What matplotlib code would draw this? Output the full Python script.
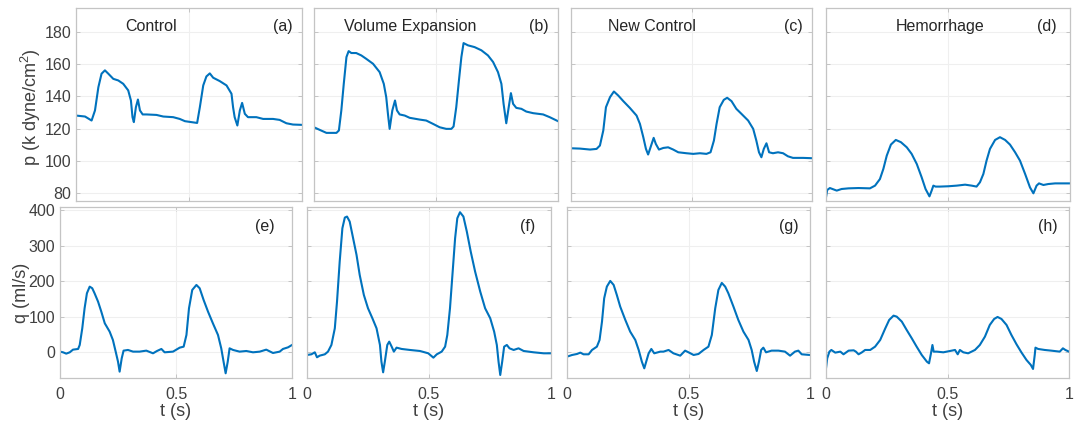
import matplotlib
matplotlib.use("Agg")
import matplotlib.pyplot as plt

plt.rcParams['font.family'] = ['Liberation Sans', 'DejaVu Sans']
plt.rcParams['mathtext.fontset'] = 'custom'
plt.rcParams['mathtext.rm'] = 'Liberation Sans'
plt.rcParams['mathtext.default'] = 'regular'

# ---------------- data ----------------
titles = ["Control", "Volume Expansion", "New Control", "Hemorrhage"]
top_tags = ["(a)", "(b)", "(c)", "(d)"]
bot_tags = ["(e)", "(f)", "(g)", "(h)"]
x_ticks = [0, 0.5, 1]
x_ticklabels = ["0", "0.5", "1"]
p_ticks = [80, 100, 120, 140, 160, 180]
q_ticks = [0, 100, 200, 300, 400]

# pressure (a) Control
t_pa = [0, 0.04, 0.069, 0.084, 0.099, 0.113, 0.128, 0.143, 0.165, 0.187, 0.209, 0.231, 0.243, 0.25, 0.256,
        0.265, 0.274, 0.283, 0.295, 0.312, 0.356, 0.386, 0.43, 0.459, 0.482, 0.511, 0.536, 0.548, 0.563,
        0.577, 0.592, 0.607, 0.636, 0.666, 0.688, 0.695, 0.702, 0.714, 0.725, 0.735, 0.747, 0.761, 0.798,
        0.828, 0.872, 0.901, 0.931, 0.96, 1.0]
p_a = [128.1, 127.5, 125.0, 131.3, 145.8, 154.2, 156.3, 154.2, 151.0, 150.0, 147.9, 143.8, 137.5, 127.1, 124.0,
       133.3, 138.1, 131.3, 128.8, 128.8, 128.5, 127.5, 127.1, 126.0, 124.6, 124.0, 123.5, 133.3, 146.9,
       152.5, 154.4, 151.7, 149.6, 146.9, 141.7, 133.3, 127.1, 121.9, 131.3, 136.0, 129.2, 127.1, 127.1,
       126.0, 126.0, 125.4, 123.3, 122.5, 122.3]

# pressure (b) Volume Expansion
t_pb = [0, 0.023, 0.051, 0.092, 0.102, 0.112, 0.122, 0.133, 0.142, 0.153, 0.173, 0.194, 0.214, 0.242, 0.269,
        0.286, 0.296, 0.303, 0.31, 0.321, 0.332, 0.34, 0.351, 0.372, 0.392, 0.433, 0.46, 0.488, 0.515, 0.542,
        0.563, 0.572, 0.583, 0.594, 0.604, 0.613, 0.631, 0.658, 0.686, 0.713, 0.734, 0.754, 0.768, 0.777,
        0.788, 0.798, 0.807, 0.816, 0.829, 0.85, 0.87, 0.898, 0.939, 0.966, 1.0]
p_b = [120.8, 119.2, 117.3, 117.3, 118.8, 131.3, 147.9, 164.6, 168.3, 167.1, 167.1, 165.6, 163.5, 160.4, 155.2,
       147.9, 139.6, 129.2, 119.8, 131.3, 137.5, 131.3, 128.8, 128.1, 126.7, 125.6, 125.0, 122.9, 120.8, 119.8,
       119.8, 121.3, 133.3, 150.0, 164.6, 173.3, 171.9, 170.8, 168.8, 165.6, 161.5, 155.2, 147.9, 135.4,
       123.3, 133.3, 142.1, 135.4, 132.9, 132.3, 130.6, 129.6, 128.8, 127.1, 124.6]

# pressure (c) New Control
t_pc = [0, 0.037, 0.079, 0.106, 0.12, 0.134, 0.145, 0.162, 0.178, 0.196, 0.217, 0.244, 0.272, 0.286, 0.3,
        0.311, 0.32, 0.33, 0.343, 0.352, 0.365, 0.383, 0.403, 0.424, 0.445, 0.479, 0.507, 0.535, 0.562, 0.579,
        0.593, 0.604, 0.617, 0.634, 0.648, 0.666, 0.686, 0.707, 0.735, 0.756, 0.769, 0.78, 0.79, 0.8, 0.811,
        0.822, 0.838, 0.859, 0.88, 0.9, 0.921, 0.963, 1.0]
p_c = [107.7, 107.5, 106.9, 107.3, 109.4, 118.8, 133.3, 139.6, 143.1, 140.6, 137.1, 132.9, 128.1, 122.9, 114.6,
       107.3, 103.8, 108.3, 114.2, 110.4, 106.9, 107.9, 108.3, 106.9, 105.2, 104.6, 104.2, 104.6, 104.2, 105.2,
       112.5, 122.9, 133.3, 137.9, 139.2, 137.1, 132.3, 129.2, 125.0, 119.8, 112.5, 105.2, 102.1, 107.3, 110.8,
       105.2, 104.6, 105.2, 104.6, 102.7, 101.7, 101.7, 101.5]

# pressure (d) Hemorrhage
t_pd = [0, 0.005, 0.016, 0.03, 0.044, 0.064, 0.092, 0.133, 0.18, 0.201, 0.221, 0.235, 0.249, 0.266, 0.286,
        0.307, 0.331, 0.351, 0.372, 0.392, 0.408, 0.424, 0.433, 0.44, 0.449, 0.467, 0.501, 0.536, 0.57, 0.597,
        0.617, 0.631, 0.645, 0.658, 0.672, 0.693, 0.713, 0.734, 0.754, 0.775, 0.795, 0.816, 0.836, 0.85,
        0.863, 0.873, 0.891, 0.911, 0.939, 1.0]
p_d = [77.1, 81.7, 82.9, 82.1, 81.3, 82.3, 82.7, 82.9, 82.7, 84.4, 88.5, 94.8, 103.1, 110.0, 112.9,
       111.5, 108.3, 104.2, 97.9, 89.6, 82.3, 77.7, 81.3, 84.4, 83.8, 83.8, 84.0, 84.4, 85.0, 84.4,
       83.8, 86.5, 91.7, 100.0, 107.3, 112.9, 114.6, 112.9, 110.0, 105.2, 100.0, 91.7, 83.3, 79.6,
       84.4, 85.8, 84.8, 85.4, 85.8, 85.8]

# flow (e) Control
t_qe = [0, 0.013, 0.027, 0.042, 0.056, 0.078, 0.085, 0.096, 0.106, 0.116, 0.128, 0.139, 0.149, 0.164, 0.178,
        0.193, 0.214, 0.228, 0.24, 0.25, 0.257, 0.266, 0.274, 0.293, 0.315, 0.343, 0.372, 0.401, 0.418, 0.437,
        0.451, 0.487, 0.516, 0.533, 0.545, 0.556, 0.57, 0.588, 0.602, 0.619, 0.638, 0.659, 0.681, 0.695,
        0.705, 0.714, 0.723, 0.731, 0.746, 0.774, 0.803, 0.832, 0.861, 0.889, 0.918, 0.947, 0.961, 0.983, 1.0]
q_e = [1.9, 0, -3.7, 0, 7.5, 9.4, 20.6, 67.4, 123.7, 165.8, 184.5, 179.9, 165.8, 142.4, 114.3,
       81.5, 58.1, 34.7, 1.9, -26.2, -54.3, -16.9, 4.7, 6.6, 1.9, 1.9, 4.7, -2.8, 3.7, 9.4,
       0, 1.9, 13.1, 15.9, 48.7, 123.7, 175.2, 189.2, 179.9, 147.1, 114.3, 81.5, 48.7, 11.2,
       -26.2, -59.0, -26.2, 11.2, 6.6, 1.9, 3.7, 0, 1.9, 7.5, -1.9, 1.9, 9.4, 14.0, 20.6]

# flow (f) Volume Expansion
t_qf = [0, 0.018, 0.032, 0.041, 0.052, 0.073, 0.086, 0.1, 0.114, 0.123, 0.134, 0.145, 0.155, 0.164, 0.175,
        0.189, 0.203, 0.216, 0.233, 0.25, 0.268, 0.285, 0.299, 0.305, 0.312, 0.319, 0.329, 0.337, 0.347, 0.356,
        0.367, 0.388, 0.422, 0.463, 0.497, 0.518, 0.532, 0.552, 0.566, 0.575, 0.586, 0.597, 0.607, 0.616,
        0.627, 0.641, 0.655, 0.671, 0.689, 0.71, 0.73, 0.751, 0.767, 0.778, 0.785, 0.792, 0.8, 0.808, 0.819,
        0.83, 0.847, 0.867, 0.888, 0.929, 0.97, 1.0]
q_f = [-7.5, -5.6, 0, -14.0, -9.4, -5.6, 1.9, 20.6, 67.4, 142.4, 254.8, 348.5, 378.5, 381.3, 367.2,
       320.4, 273.5, 217.3, 161.1, 123.7, 95.6, 67.4, 20.6, -26.2, -56.2, -26.2, 20.6, 30.0, 15.9, 1.9,
       13.1, 9.4, 6.6, 3.7, -2.8, -15.0, -5.6, 1.9, 15.9, 48.7, 123.7, 226.7, 320.4, 376.6,
       393.5, 381.3, 339.1, 282.9, 226.7, 170.5, 123.7, 95.6, 58.1, 20.6, -26.2, -63.7, -26.2, 15.9, 20.6,
       11.2, 6.6, 11.2, 3.7, 0, -2.8, -2.8]

# flow (g) New Control
t_qg = [0, 0.021, 0.041, 0.055, 0.068, 0.089, 0.103, 0.123, 0.134, 0.144, 0.153, 0.164, 0.178, 0.192, 0.205,
        0.219, 0.24, 0.26, 0.281, 0.295, 0.308, 0.318, 0.326, 0.336, 0.347, 0.359, 0.384, 0.397, 0.418, 0.438,
        0.466, 0.486, 0.5, 0.521, 0.541, 0.562, 0.582, 0.596, 0.61, 0.623, 0.637, 0.651, 0.664, 0.685, 0.705,
        0.726, 0.747, 0.76, 0.77, 0.781, 0.79, 0.799, 0.808, 0.819, 0.842, 0.87, 0.897, 0.918, 0.938, 0.952,
        0.966, 1.0]
q_g = [-12.2, -7.5, -4.7, -0.9, -5.6, -5.6, 6.6, 15.9, 34.7, 86.2, 151.8, 184.5, 200.5, 189.2, 161.1,
       128.3, 90.9, 58.1, 34.7, 6.6, -26.2, -45.0, -26.2, -2.8, 9.4, -2.8, 1.9, 1.9, 6.6, -2.8,
       -9.4, 4.7, 0, -7.5, -4.7, 6.6, 15.9, 48.7, 123.7, 175.2, 194.9, 184.5, 165.8, 128.3, 90.9,
       58.1, 34.7, 6.6, -26.2, -52.5, -26.2, 6.6, 13.1, 0, 4.7, 4.7, 1.9, -9.4, 1.9, 4.7,
       -5.6, -7.5]

# flow (h) Hemorrhage
t_qh = [0, 0.005, 0.014, 0.022, 0.038, 0.059, 0.072, 0.093, 0.114, 0.123, 0.134, 0.148, 0.161, 0.182, 0.202,
        0.223, 0.244, 0.26, 0.278, 0.291, 0.312, 0.332, 0.353, 0.373, 0.394, 0.415, 0.424, 0.432, 0.438, 0.443,
        0.456, 0.483, 0.51, 0.531, 0.542, 0.551, 0.565, 0.585, 0.613, 0.633, 0.654, 0.674, 0.692, 0.706, 0.722,
        0.743, 0.763, 0.784, 0.804, 0.825, 0.843, 0.852, 0.859, 0.862, 0.873, 0.9, 0.927, 0.962, 0.975, 0.985,
        1.0]
q_h = [-45.0, -16.9, 1.9, 6.6, -0.9, 1.9, -5.6, 4.7, 5.6, 1.9, -5.6, 0, 6.6, 6.6, 15.9,
       34.7, 67.4, 90.9, 103.0, 100.2, 86.2, 62.8, 39.3, 15.9, -7.5, -26.2, -30.9, -2.8, 20.6, 1.9,
       1.9, 0, 3.7, 6.6, -5.6, 6.6, 0, -2.8, 6.6, 20.6, 44.0, 76.8, 93.7, 99.3, 93.7,
       76.8, 48.7, 22.5, 0, -21.5, -35.6, -46.8, -7.5, 13.1, 9.4, 6.6, 4.7, 1.9, 11.2, 6.6,
       1.9]

t_top = [t_pa, t_pb, t_pc, t_pd]
p_all = [p_a, p_b, p_c, p_d]
t_bot = [t_qe, t_qf, t_qg, t_qh]
q_all = [q_e, q_f, q_g, q_h]

# ---------------- layout ----------------
W, H = 1074, 430
fig = plt.figure(figsize=(W / 100, H / 100), dpi=100)

top_px = [(76, 302), (314, 558), (571, 812), (826, 1070)]
bot_px = [(60, 292), (307, 551), (567, 810), (826, 1069)]
top_y = (8.3, 200.7)
bot_y = (206.7, 378.3)

title_x = [0.332, 0.393, 0.336, 0.467]
toptag_x = [0.916, 0.922, 0.921, 0.906]
bottag_x = [0.884, 0.906, 0.914, 0.914]

LINE = '#0072BD'
SPINE = '#c4c4c4'
TICKC = '#404040'
GRID = '#efefef'


def mkax(xpx, ypx):
    l = xpx[0] / W
    w = (xpx[1] - xpx[0]) / W
    b = 1 - ypx[1] / H
    h = (ypx[1] - ypx[0]) / H
    return fig.add_axes([l, b, w, h])


def style(ax):
    for s in ax.spines.values():
        s.set_color(SPINE)
        s.set_linewidth(0.9)
    ax.tick_params(direction='in', length=3, width=0.7, color=SPINE, labelcolor=TICKC,
                   labelsize=11.5, top=True, right=True)
    ax.tick_params(axis='x', pad=6)
    ax.tick_params(axis='y', pad=3.5)
    ax.grid(True, color=GRID, linewidth=0.8)
    ax.set_axisbelow(True)
    ax.set_xlim(0, 1)
    ax.set_xticks(x_ticks)


for i in range(4):
    ax = mkax(top_px[i], top_y)
    style(ax)
    ax.plot(t_top[i], p_all[i], color=LINE, lw=1.5, solid_joinstyle='round')
    ax.set_ylim(75, 195)
    ax.set_yticks(p_ticks)
    ax.set_xticklabels([])
    if i > 0:
        ax.set_yticklabels([])
    ax.text(title_x[i], 0.903, titles[i], transform=ax.transAxes, ha='center', va='center',
            fontsize=11.5, color='#262626')
    ax.text(toptag_x[i], 0.903, top_tags[i], transform=ax.transAxes, ha='center', va='center',
            fontsize=11.5, color='#262626')

    axb = mkax(bot_px[i], bot_y)
    style(axb)
    axb.plot(t_bot[i], q_all[i], color=LINE, lw=1.5, solid_joinstyle='round')
    axb.set_ylim(-73, 409)
    axb.set_yticks(q_ticks)
    axb.set_xticklabels(x_ticklabels)
    if i > 0:
        axb.set_yticklabels([])
    axb.text(bottag_x[i], 0.882, bot_tags[i], transform=axb.transAxes, ha='center', va='center',
             fontsize=11.5, color='#262626')
    cx = (bot_px[i][0] + bot_px[i][1]) / 2 / W
    fig.text(cx, 1 - 412 / H, 't (s)', ha='center', va='center', fontsize=13, color=TICKC)

fig.text(31 / W, 1 - 107 / H, r'p (k dyne/cm$^2$)', rotation=90, ha='center', va='center',
         fontsize=13, color=TICKC)
fig.text(21 / W, 1 - 293 / H, 'q (ml/s)', rotation=90, ha='center', va='center',
         fontsize=13, color=TICKC)

fig.savefig('out.png', dpi=100)
